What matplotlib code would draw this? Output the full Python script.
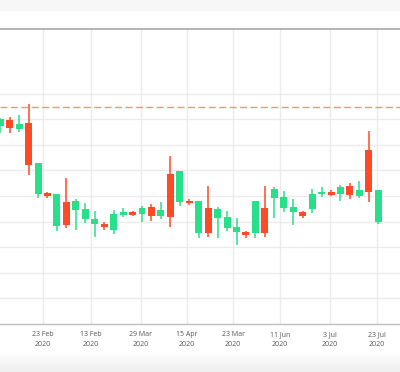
import matplotlib.pyplot as plt
import numpy as np

# данные свечей (open, high, low, close)
opens = [77.3, 79.7, 76.2, 78.4, 50.7, 51.3, 38.3, 47.8, 44.5, 40.9,
         38.9, 39.1, 36.7, 42.6, 43.6, 43.0, 45.7, 42.3, 58.6, 47.8,
         48.2, 35.7, 45.2, 41.5, 37.6, 35.8, 35.8, 35.4, 45.2, 49.1,
         45.4, 43.6, 43.9, 44.8, 50.7, 51.6, 50.9, 53.9, 50.1, 68.0,
         40.0]
highs = [80.3, 80.7, 81.6, 85.8, 62.8, 51.7, 50.9, 57.1, 48.7, 47.1,
         44.1, 39.7, 44.5, 45.4, 44.1, 46.2, 46.9, 47.7, 65.6, 59.6,
         48.7, 48.1, 54.0, 45.8, 44.1, 41.3, 36.3, 48.1, 54.0, 53.6,
         52.0, 48.8, 44.3, 52.6, 53.4, 52.3, 54.3, 55.0, 55.9, 75.4,
         52.3]
lows = [74.6, 74.5, 75.1, 58.2, 49.3, 49.3, 36.4, 37.4, 36.7, 39.6,
        34.1, 36.7, 35.2, 41.7, 42.3, 40.0, 40.4, 41.0, 38.0, 46.2,
        46.5, 33.5, 34.1, 33.7, 36.3, 30.9, 33.7, 33.5, 34.1, 41.5,
        43.9, 38.7, 41.5, 43.2, 49.7, 50.1, 48.0, 48.8, 49.1, 47.8,
        38.9]
closes = [80.0, 76.4, 78.2, 62.1, 62.8, 50.1, 50.8, 38.7, 48.0, 44.8,
          41.0, 37.8, 43.0, 43.8, 42.6, 45.4, 42.3, 44.4, 41.9, 59.6,
          47.3, 48.0, 35.4, 45.0, 41.8, 37.8, 34.8, 48.0, 35.4, 52.7,
          49.5, 45.8, 42.3, 50.8, 51.7, 50.5, 53.4, 50.4, 52.3, 51.7,
          52.3]

tick_pos = [4.52, 9.60, 14.89, 19.76, 24.63, 29.6, 34.9, 39.87]
tick_labels = ["23 Feb\n2020", "13 Feb\n2020", "29 Mar\n2020", "15 Apr\n2020",
               "23 Mar\n2020", "11 Jun\n2020", "3 Jul\n2020", "23 Jul\n2020"]
grid_levels = [10, 20, 30, 40, 50, 60, 70, 80, 90]
ref_level = 84.6

up_color = '#28e08a'
down_color = '#ff4a26'

x = np.arange(len(opens))
o = np.array(opens)
c = np.array(closes)
colors = [up_color if cc >= oo else down_color for oo, cc in zip(o, c)]

fig = plt.figure(figsize=(4, 3.72), dpi=100)
fig.patch.set_facecolor('white')

# светлая полоса сверху
fig.patches.append(plt.Rectangle((0, 1 - 10 / 372), 1, 10 / 372,
                                 transform=fig.transFigure,
                                 color='#f7f7f7', zorder=0))

# тень снизу
sh = fig.add_axes([0, 0, 1, 18 / 372])
grad = np.linspace(0, 1, 50).reshape(-1, 1)
sh.imshow(grad, aspect='auto', cmap='Greys', vmin=-0.2, vmax=8,
          extent=[0, 1, 0, 1], origin='upper')
sh.axis('off')

ax = fig.add_axes([0, 324 / 372 * 0 + 48 / 372, 1, 295 / 372])
ax.set_facecolor('white')

# фитили и тела
ax.vlines(x, lows, highs, colors=colors, linewidth=1.1, zorder=3)
ax.bar(x, np.abs(c - o), bottom=np.minimum(o, c), width=0.74,
       color=colors, zorder=4)

ax.axhline(ref_level, color='#f4907c', linewidth=1, dashes=(5, 2.5), zorder=2)

ax.set_xlim(-0.026, 42.3)
ax.set_ylim(0, 115.2)
ax.set_yticks(grid_levels)
ax.set_xticks(tick_pos)
ax.set_xticklabels(tick_labels, fontsize=5, color='#555555', family='Open Sans',
                   linespacing=1.6)
ax.tick_params(axis='x', length=0, pad=5)
ax.tick_params(axis='y', length=0, labelleft=False)
ax.grid(True, color='#ebebeb', linewidth=1, zorder=0)

for s in ['left', 'right']:
    ax.spines[s].set_visible(False)
ax.spines['top'].set_color('#a8a8a8')
ax.spines['top'].set_linewidth(1.2)
ax.spines['bottom'].set_color('#c0c0c0')
ax.spines['bottom'].set_linewidth(1)

fig.savefig('out.png', dpi=100)
